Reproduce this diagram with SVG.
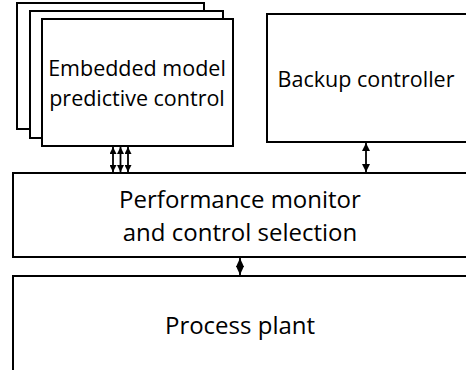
<svg xmlns="http://www.w3.org/2000/svg" width="466" height="370" viewBox="0 0 466 370">
<style>
.box{fill:#fff;stroke:#000;stroke-width:2}
.t{font-family:"Open Sans","Noto Sans",sans-serif;font-size:21.5px;fill:#000;text-anchor:middle}
.L{font-size:24px}
.c{stroke:#000;stroke-width:1.8;fill:none}
</style>
<defs>
<marker id="ah" viewBox="0 0 10 10" preserveAspectRatio="none" refX="10" refY="5" markerWidth="8" markerHeight="8" orient="auto-start-reverse" markerUnits="userSpaceOnUse">
<path d="M0,0L10,5L0,10z" fill="#000"/>
</marker>
<marker id="ahd" viewBox="0 0 10 10" preserveAspectRatio="none" refX="10" refY="5" markerWidth="9" markerHeight="8" orient="auto-start-reverse" markerUnits="userSpaceOnUse">
<path d="M0,0L10,5L0,10z" fill="#000"/>
</marker>
<marker id="ahs" viewBox="0 0 10 10" preserveAspectRatio="none" refX="10" refY="5" markerWidth="7" markerHeight="7" orient="auto-start-reverse" markerUnits="userSpaceOnUse">
<path d="M0,0L10,5L0,10z" fill="#000"/>
</marker>
</defs>
<rect x="0" y="0" width="466" height="370" fill="#fff"/>
<g id="mpc">
<rect class="box" x="17" y="3" width="187" height="126"/>
<rect class="box" x="30" y="11" width="193" height="127"/>
<rect class="box" x="42" y="19" width="191" height="127"/>
<text class="t" x="137" y="76">Embedded model</text>
<text class="t" x="137" y="106">predictive control</text>
</g>
<g id="backup">
<rect class="box" x="267" y="14" width="200" height="128"/>
<text class="t" x="366" y="87">Backup controller</text>
</g>
<g id="monitor">
<rect class="box" x="13" y="173" width="454" height="84"/>
<text class="t L" x="240" y="208">Performance monitor</text>
<text class="t L" x="240" y="241">and control selection</text>
</g>
<g id="plant">
<rect class="box" x="13" y="276" width="454" height="100"/>
<text class="t L" x="240" y="334">Process plant</text>
</g>
<g id="connectors">
<line class="c" x1="113" y1="147" x2="113" y2="172" marker-start="url(#ahs)" marker-end="url(#ahs)"/>
<line class="c" x1="120.5" y1="147" x2="120.5" y2="172" marker-start="url(#ahs)" marker-end="url(#ahs)"/>
<line class="c" x1="128" y1="147" x2="128" y2="172" marker-start="url(#ahs)" marker-end="url(#ahs)"/>
<line class="c" x1="366" y1="143" x2="366" y2="172" marker-start="url(#ah)" marker-end="url(#ah)"/>
<line class="c" x1="240" y1="258" x2="240" y2="275" marker-start="url(#ahd)" marker-end="url(#ahd)"/>
</g>
</svg>
